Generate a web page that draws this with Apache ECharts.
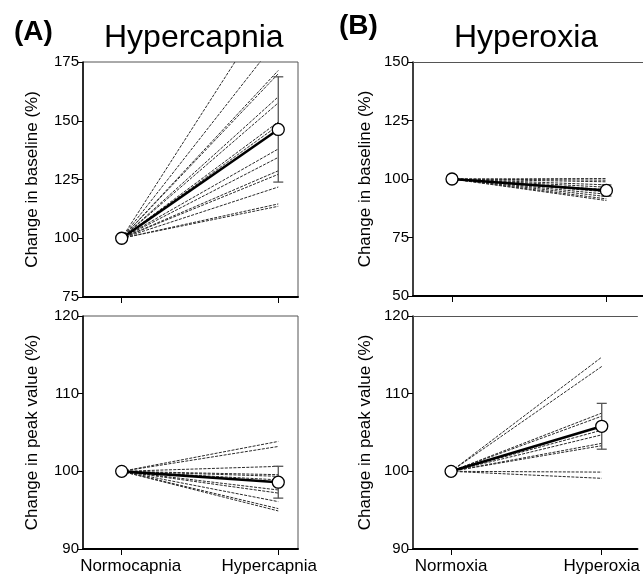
<!DOCTYPE html>
<html>
<head>
<meta charset="utf-8">
<script src="https://cdn.jsdelivr.net/npm/echarts@6/dist/echarts.min.js"></script>
<style>
  html, body { margin: 0; padding: 0; background: #fff; }
  #chart { width: 643px; height: 583px; }
</style>
</head>
<body>
<div id="chart"></div>
<script>
// Panel A: hypercapnia; panel B: hyperoxia. Values are % of control condition.
const capniaLabels = ['Normocapnia', 'Hypercapnia'];
const oxiaLabels = ['Normoxia', 'Hyperoxia'];

// Individual subjects, value reached in the test condition (start is 100 %)
const capniaBaseline = [203.7, 184.9, 171.4, 170.0, 160.2, 157.6, 149.5, 148.0, 138.0, 134.4, 128.7, 127.2, 121.8, 114.6, 113.6];
const capniaPeak = [103.85, 103.2, 100.64, 99.57, 99.36, 98.9, 97.6, 97.2, 96.1, 95.2, 94.9];
const oxiaBaseline = [100.2, 99.5, 98.8, 97.5, 96.5, 95.5, 94.5, 93.5, 92.5, 91.5, 90.8];
const oxiaPeak = [114.7, 113.5, 107.5, 107.1, 105.3, 104.7, 103.6, 103.3, 99.9, 99.1];

// Group mean and SD in the test condition
const capniaBaselineMean = 146.3, capniaBaselineSD = 22.4;
const capniaPeakMean = 98.6, capniaPeakSD = 2.05;
const oxiaBaselineMean = 95.1, oxiaBaselineSD = 2.4;
const oxiaPeakMean = 105.8, oxiaPeakSD = 2.95;

// Y-axis ticks
const baselineTicksA = [75, 100, 125, 150, 175];
const baselineTicksB = [50, 75, 100, 125, 150];
const peakTicks = [90, 100, 110, 120];

const chart = echarts.init(document.getElementById('chart'));
const FONT = 'Liberation Sans, Arial, sans-serif';

// Panel B runs past the right edge of the page, so it gets no right border
const grids = [
  { left: 83, top: 62, width: 215, height: 235, show: true },
  { left: 83, top: 316, width: 215, height: 233, show: true },
  { left: 413, top: 62, right: 0, height: 234, show: false },
  { left: 413, top: 316, right: 0, height: 233, show: false }
];
const xRanges = [
  { min: -0.247, max: 1.126, labels: capniaLabels, showLabel: false, shift: 18 },
  { min: -0.247, max: 1.126, labels: capniaLabels, showLabel: true, shift: 18 },
  { min: -0.2526, max: 1.237, labels: oxiaLabels, showLabel: false, shift: 0 },
  { min: -0.2526, max: 1.237, labels: oxiaLabels, showLabel: true, shift: 0 }
];
const yDefs = [
  { ticks: baselineTicksA, name: 'Change in baseline (%)' },
  { ticks: peakTicks, name: 'Change in peak value (%)' },
  { ticks: baselineTicksB, name: 'Change in baseline (%)' },
  { ticks: peakTicks, name: 'Change in peak value (%)' }
];

const panels = [
  { ends: capniaBaseline, mean: capniaBaselineMean, sd: capniaBaselineSD },
  { ends: capniaPeak, mean: capniaPeakMean, sd: capniaPeakSD },
  { ends: oxiaBaseline, mean: oxiaBaselineMean, sd: oxiaBaselineSD },
  { ends: oxiaPeak, mean: oxiaPeakMean, sd: oxiaPeakSD }
];

const series = [];
panels.forEach((p, i) => {
  p.ends.forEach(v => {
    series.push({
      type: 'line', xAxisIndex: i, yAxisIndex: i,
      data: [[0, 100], [1, v]],
      symbol: 'none', silent: true,
      lineStyle: { color: '#2a2a2a', width: 1, type: [3, 1.3] },
      clip: true, z: 2
    });
  });
  // SD bar at the test condition
  series.push({
    type: 'custom', xAxisIndex: i, yAxisIndex: i, silent: true, z: 3,
    data: [[1, p.mean - p.sd, p.mean + p.sd]],
    renderItem: (params, api) => {
      const lo = api.coord([api.value(0), api.value(1)]);
      const hi = api.coord([api.value(0), api.value(2)]);
      const w = 5;
      const st = { stroke: '#555', lineWidth: 1.3 };
      return {
        type: 'group',
        children: [
          { type: 'line', shape: { x1: lo[0], y1: lo[1], x2: hi[0], y2: hi[1] }, style: st },
          { type: 'line', shape: { x1: lo[0] - w, y1: lo[1], x2: lo[0] + w, y2: lo[1] }, style: st },
          { type: 'line', shape: { x1: hi[0] - w, y1: hi[1], x2: hi[0] + w, y2: hi[1] }, style: st }
        ]
      };
    }
  });
  // group mean
  series.push({
    type: 'line', xAxisIndex: i, yAxisIndex: i, silent: true, z: 4,
    data: [[0, 100], [1, p.mean]],
    symbol: 'circle', symbolSize: 12,
    itemStyle: { color: '#fff', borderColor: '#000', borderWidth: 1.3 },
    lineStyle: { color: '#000', width: 2.6 }
  });
});

const xAxes = xRanges.map((r, i) => ({
  type: 'value', gridIndex: i, min: r.min, max: r.max,
  axisLine: { show: true, onZero: false, lineStyle: { color: '#000', width: 2 } },
  axisTick: { show: true, customValues: [0, 1], length: 6, inside: false, lineStyle: { color: '#000', width: 1 } },
  axisLabel: {
    show: r.showLabel, customValues: [0, 1], margin: 9,
    fontSize: 17, color: '#000', fontFamily: FONT,
    formatter: v => (Math.round(v) === 0 ? '{l|' : '{r|') + r.labels[Math.round(v)] + '}',
    rich: {
      l: { fontSize: 17, fontFamily: FONT, color: '#000', padding: [0, 0, 0, r.shift] },
      r: { fontSize: 17, fontFamily: FONT, color: '#000', padding: [0, r.shift, 0, 0] }
    }
  },
  splitLine: { show: false }
}));
// top frame line of panel B
[2, 3].forEach(i => {
  xAxes.push({
    type: 'value', gridIndex: i, position: 'top', min: xRanges[i].min, max: xRanges[i].max,
    axisLine: { show: true, onZero: false, lineStyle: { color: '#555', width: 1 } },
    axisTick: { show: false }, axisLabel: { show: false }, splitLine: { show: false }
  });
});

chart.setOption({
  animation: false,
  backgroundColor: '#fff',
  textStyle: { fontFamily: FONT },
  title: [
    { text: '(A)', left: 9, top: 13, textStyle: { fontFamily: FONT, fontWeight: 'bold', fontSize: 28, color: '#000' } },
    { text: 'Hypercapnia', left: 99, top: 17, textStyle: { fontFamily: FONT, fontWeight: 'normal', fontSize: 32, color: '#000' } },
    { text: '(B)', left: 334, top: 7, textStyle: { fontFamily: FONT, fontWeight: 'bold', fontSize: 28, color: '#000' } },
    { text: 'Hyperoxia', left: 449, top: 17, textStyle: { fontFamily: FONT, fontWeight: 'normal', fontSize: 32, color: '#000' } }
  ],
  grid: grids.map(g => Object.assign({ borderColor: '#555', borderWidth: 1, backgroundColor: 'transparent' }, g)),
  xAxis: xAxes,
  yAxis: yDefs.map((d, i) => ({
    type: 'value', gridIndex: i,
    min: d.ticks[0], max: d.ticks[d.ticks.length - 1],
    interval: d.ticks[1] - d.ticks[0],
    name: d.name, nameLocation: 'middle', nameGap: i < 2 ? 42 : 39,
    nameTextStyle: { fontSize: 17, color: '#000', fontFamily: FONT },
    axisLine: { show: true, onZero: false, lineStyle: { color: '#000', width: 1.5 } },
    axisTick: { show: true, length: 5, lineStyle: { color: '#000', width: 1 } },
    axisLabel: { fontSize: 15, color: '#000', margin: 4, fontFamily: FONT },
    splitLine: { show: false }
  })),
  series: series
});
</script>
</body>
</html>
